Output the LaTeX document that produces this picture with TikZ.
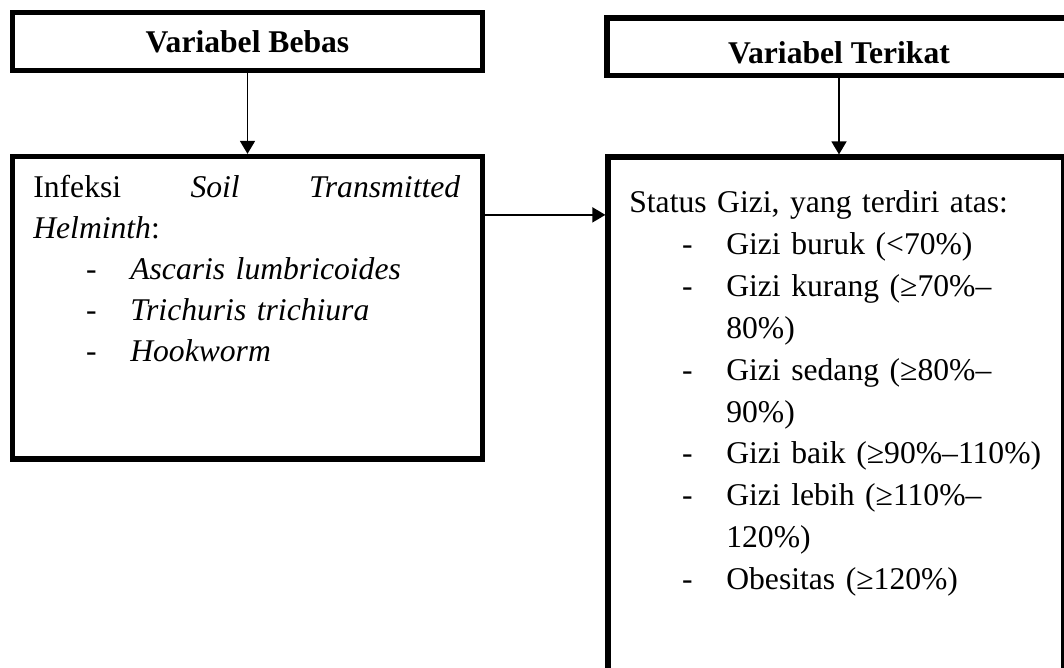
\documentclass[tikz,border=0pt]{standalone}
\usepackage{fontspec}
\setmainfont{Liberation Serif}
\usetikzlibrary{arrows.meta,calc}
\tikzset{varbox/.style={draw, line width=3pt, inner sep=0pt, font=\fontsize{18pt}{24pt}\selectfont\bfseries},
listtxt/.style={anchor=base west, inner sep=0pt, align=left},
arr/.style={line width=1pt, -{Triangle[length=7.4pt,width=8.5pt]}}}
\newcommand{\dashitem}[1]{\hspace*{30pt}\makebox[25.2pt][l]{-}#1}
\newcommand{\contline}[1]{\hspace*{55.2pt}#1}

\begin{document}
\begin{tikzpicture}[x=0.02cm, y=-0.02cm]
        \clip (0,0) rectangle (1064,668);
        \fill[white] (0,0) rectangle (1064,668);

        % kotak variabel
        \node[varbox, minimum width=9.4cm, minimum height=1.16cm, text height=0.46cm] (bebas) at (247.5, 41.5) {Variabel Bebas};
        \node[varbox, minimum width=9.28cm, minimum height=1.15cm, text height=0.66cm] (terikat) at (839, 46.75) {Variabel Terikat};
        \node[varbox, minimum width=9.4cm, minimum height=6.05cm] (infeksi) at (247.5, 307.75) {};
        \node[varbox, minimum width=9.12cm, minimum height=11.26cm] (status) at (836, 438.5) {};

        % isi kotak
        \node[listtxt, text width=8.54cm, font=\fontsize{18pt}{23.2pt}\selectfont] (infektxt) at (33, 198)
            {\hbox to 8.54cm{Infeksi\hfill\textit{Soil}\hfill\textit{Transmitted}}\\
             \textit{Helminth}:\\
             \dashitem{\textit{Ascaris lumbricoides}}\\
             \dashitem{\textit{Trichuris trichiura}}\\
             \dashitem{\textit{Hookworm}}};
        \node[listtxt, text width=8.6cm, font=\fontsize{18pt}{23.8pt}\selectfont] (statustxt) at (629, 213)
            {Status Gizi, yang terdiri atas:\\
             \dashitem{Gizi buruk (<70\%)}\\
             \dashitem{Gizi kurang (≥70\%–}\\
             \contline{80\%)}\\
             \dashitem{Gizi sedang (≥80\%–}\\
             \contline{90\%)}\\
             \dashitem{Gizi baik (≥90\%–110\%)}\\
             \dashitem{Gizi lebih (≥110\%–}\\
             \contline{120\%)}\\
             \dashitem{Obesitas (≥120\%)}};

        % panah
        \coordinate (lnk) at ([xshift=-2pt, yshift=-1.22cm]infeksi.north east);
        \draw[arr] (bebas.south) -- (infeksi.north);
        \draw[arr] (terikat.south) -- (terikat.south |- status.north);
        \draw[arr] (lnk) -- (lnk -| status.west);
\end{tikzpicture}
\end{document}
